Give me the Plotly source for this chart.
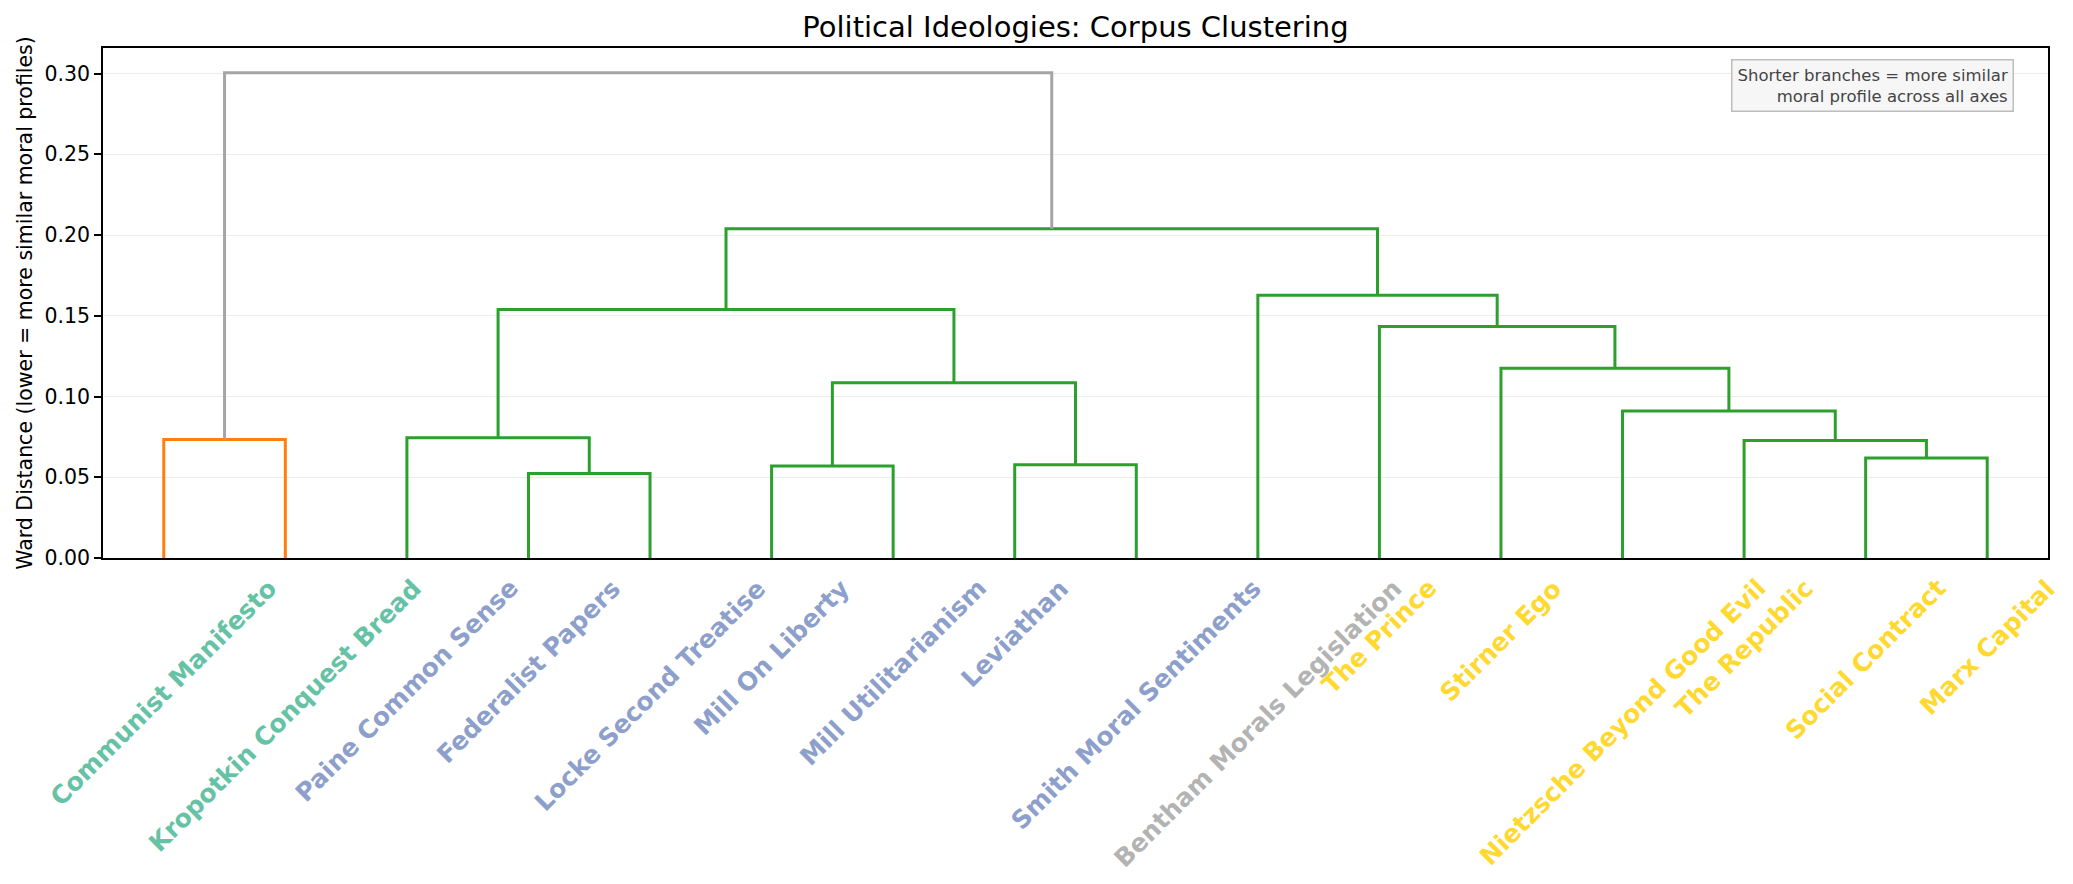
import plotly.graph_objects as go

# leaves in dendrogram order (left to right)
leaf_labels = [
    "Communist Manifesto", "Kropotkin Conquest Bread", "Paine Common Sense",
    "Federalist Papers", "Locke Second Treatise", "Mill On Liberty",
    "Mill Utilitarianism", "Leviathan", "Smith Moral Sentiments",
    "Bentham Morals Legislation", "The Prince", "Stirner Ego",
    "Nietzsche Beyond Good Evil", "The Republic", "Social Contract", "Marx Capital",
]
label_colors = [
    "#66c2a5", "#66c2a5", "#8da0cb", "#8da0cb", "#8da0cb", "#8da0cb",
    "#8da0cb", "#8da0cb", "#8da0cb", "#b3b3b3", "#ffd92f", "#ffd92f",
    "#ffd92f", "#ffd92f", "#ffd92f", "#ffd92f",
]

# linkage: new cluster id = 16 + row index
merge_left = [0, 3, 2, 5, 7, 19, 18, 14, 13, 12, 11, 10, 9, 22, 16]
merge_right = [1, 4, 17, 6, 8, 20, 21, 15, 23, 24, 25, 26, 27, 28, 29]
merge_height = [0.0734, 0.0523, 0.0744, 0.0570, 0.0577, 0.1085, 0.1538,
                0.0619, 0.0727, 0.0911, 0.1175, 0.1434, 0.1627, 0.2038, 0.3005]
merge_color = ["#ff7f0e"] + ["#2ca02c"] * 13 + ["#a5a5a5"]

y_ticks = [0.0, 0.05, 0.10, 0.15, 0.20, 0.25, 0.30]

n = len(leaf_labels)
pos = {i: 10 * i + 5 for i in range(n)}
hgt = {i: 0.0 for i in range(n)}

segs = {}
for k, (a, b, h, c) in enumerate(zip(merge_left, merge_right, merge_height, merge_color)):
    xs, ys = segs.setdefault(c, ([], []))
    xs += [pos[a], pos[a], pos[b], pos[b], None]
    ys += [hgt[a], h, h, hgt[b], None]
    pos[n + k] = (pos[a] + pos[b]) / 2
    hgt[n + k] = h

fig = go.Figure()
for c, (xs, ys) in segs.items():
    fig.add_trace(go.Scatter(x=xs, y=ys, mode="lines",
                             line=dict(color=c, width=3), hoverinfo="skip"))

# rotated leaf labels, centred under each leaf
for i, (lab, col) in enumerate(zip(leaf_labels, label_colors)):
    fig.add_annotation(x=pos[i], y=0, xref="x", yref="paper", text=lab,
                       showarrow=False, textangle=-45, xanchor="center",
                       yanchor="top", yshift=-13,
                       font=dict(family="DejaVu Sans", size=25, color=col, weight="bold"))

fig.add_annotation(x=0.9825, y=0.979, xref="paper", yref="paper",
                   text="Shorter branches = more similar<br>moral profile across all axes",
                   showarrow=False, xanchor="right", yanchor="top", align="right",
                   font=dict(family="DejaVu Sans", size=16.5, color="#444444"),
                   bgcolor="rgba(245,245,245,0.9)", bordercolor="#bdbdbd",
                   borderwidth=1.5, borderpad=5)

# page body has an 8px margin, so the figure is 16px smaller than the window
fig.update_layout(
    width=2057, height=868,
    margin=dict(l=95, r=17, t=40, b=318),
    plot_bgcolor="white", paper_bgcolor="white",
    showlegend=False,
    font=dict(family="DejaVu Sans", color="black"),
    title=dict(text="Political Ideologies: Corpus Clustering", x=0.5,
               xref="paper", xanchor="center", y=0.978, yanchor="middle",
               font=dict(size=29, color="black")),
    xaxis=dict(range=[0, 10 * n], showticklabels=False, ticks="",
               showgrid=False, zeroline=False, showline=True, mirror=True,
               linecolor="black", linewidth=1.6),
    yaxis=dict(range=[0, 0.3158], tickvals=y_ticks, tickformat=".2f",
               ticks="outside", ticklen=7, tickwidth=1.6, tickcolor="black",
               tickfont=dict(size=20.5),
               showgrid=True, gridcolor="#ececec", gridwidth=1.3,
               zeroline=False, showline=True, mirror=True,
               linecolor="black", linewidth=1.6,
               title=dict(text="Ward Distance (lower = more similar moral profiles)",
                          font=dict(size=20.5), standoff=6)),
)

fig.write_html("out.html")
